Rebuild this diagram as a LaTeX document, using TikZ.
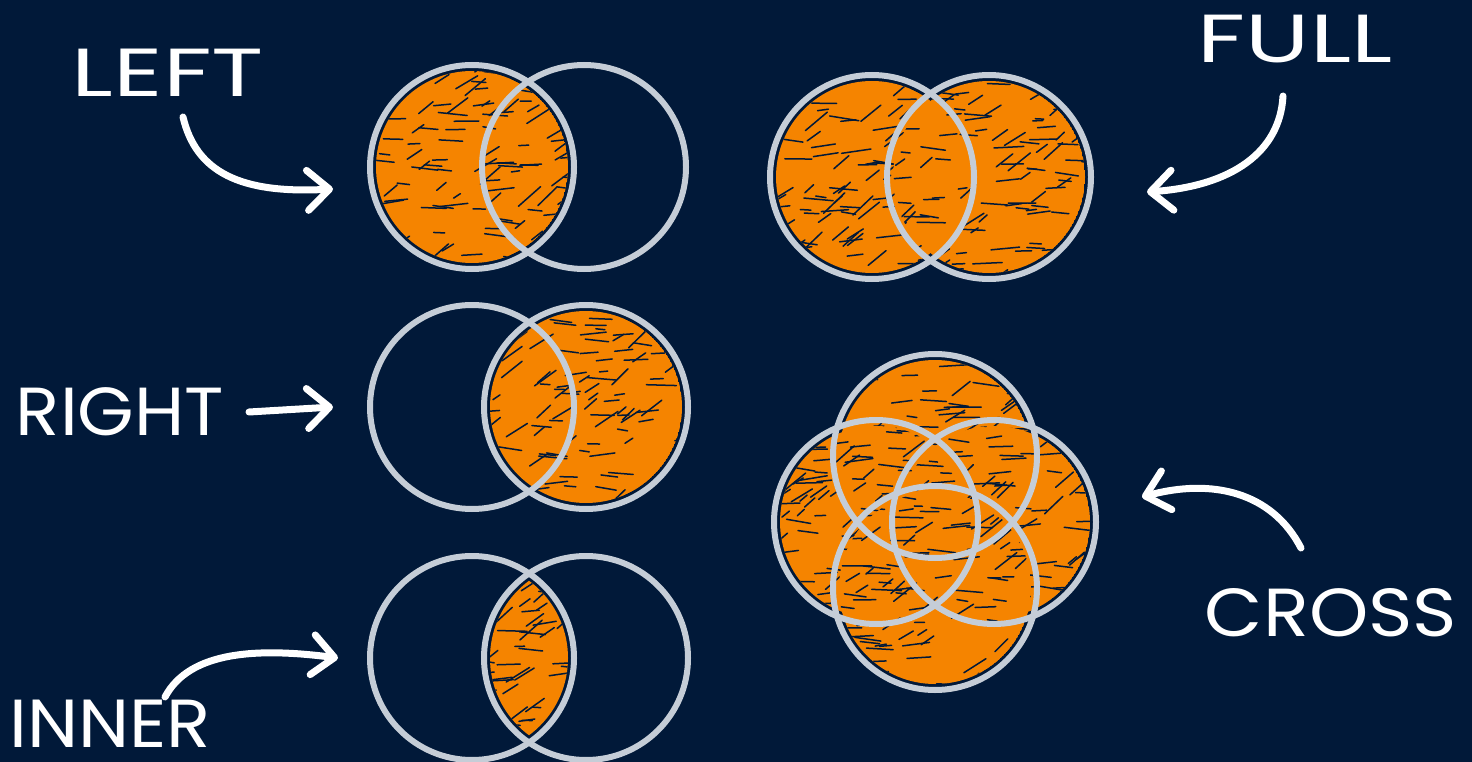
\documentclass[tikz,border=0pt]{standalone}
\usepackage{fontspec}
\setmainfont{Poppins}
\usetikzlibrary{arrows.meta}
\definecolor{bgc}{HTML}{011939}
\definecolor{ringc}{HTML}{C5CDD7}
\definecolor{orng}{HTML}{F58400}
\tikzset{
  ring/.style={circle, draw=ringc, line width=6pt, minimum size=204pt, inner sep=0pt},
  lbl/.style={text=white, font=\fontsize{68}{68}\selectfont, inner sep=0pt},
  hand/.style={draw=white, line width=7pt, line cap=round,
    -{Straight Barb[length=22pt,width=40pt,round]}},
}
\newcommand{\hatchat}[2]{%
  \foreach \k in {1,...,110}{%
    \pgfmathsetmacro{\hx}{#1+rnd*200-100}%
    \pgfmathsetmacro{\hy}{#2+rnd*200-100}%
    \pgfmathsetmacro{\ha}{ifthenelse(rnd>0.6,30+rnd*15,-10+rnd*20)}%
    \pgfmathsetmacro{\hl}{8+rnd*22}%
    \draw[bgc, line width=1.5pt, line cap=round] (\hx,\hy) -- ++(\ha:\hl pt);
  }}
\begin{document}
\begin{tikzpicture}[x=1pt,y=-1pt]
\fill[bgc] (0,0) rectangle (1472,762);
\useasboundingbox (0,0) rectangle (1472,762);
\pgfmathsetseed{11}

% ---------- fills ----------
% LEFT
\begin{scope}
  \clip (472,167) circle[radius=96pt];
  \fill[orng] (472,167) circle[radius=96pt];
  \hatchat{472}{167}
\end{scope}
% RIGHT
\begin{scope}
  \clip (586,407) circle[radius=96pt];
  \fill[orng] (586,407) circle[radius=96pt];
  \hatchat{586}{407}
\end{scope}
% INNER
\begin{scope}
  \clip (472,658) circle[radius=96pt];
  \clip (586,658) circle[radius=96pt];
  \fill[orng] (529,658) circle[radius=96pt];
  \hatchat{529}{658}
\end{scope}
% FULL
\begin{scope}
  \clip (872,177) circle[radius=96pt];
  \fill[orng] (872,177) circle[radius=96pt];
  \hatchat{872}{177}
\end{scope}
\begin{scope}
  \clip (989,177) circle[radius=96pt];
  \fill[orng] (989,177) circle[radius=96pt];
  \hatchat{989}{177}
\end{scope}
% CROSS
\foreach \cx/\cy in {935/456, 876/522, 994/522, 935/588}{
  \begin{scope}
    \clip (\cx,\cy) circle[radius=96pt];
    \fill[orng] (\cx,\cy) circle[radius=96pt];
    \hatchat{\cx}{\cy}
  \end{scope}
}

% ---------- rings ----------
\node[ring] (l1) at (472,167) {};
\node[ring] (l2) at (584,167) {};
\node[ring] (r1) at (472,407) {};
\node[ring] (r2) at (586,407) {};
\node[ring] (i1) at (472,658) {};
\node[ring] (i2) at (586,658) {};
\node[ring] (f1) at (872,177) {};
\node[ring] (f2) at (989,177) {};
\node[ring] (ct) at (935,456) {};
\node[ring] (cl) at (876,522) {};
\node[ring] (cr) at (994,522) {};
\node[ring] (cb) at (935,588) {};

% ---------- labels ----------
\node[lbl, xscale=1.42] (tleft)  at (168,73)  {LEFT};
\node[lbl, xscale=1.07] (tright) at (120,412) {RIGHT};
\node[lbl, xscale=1.07] (tinner) at (110,724) {INNER};
\node[lbl, xscale=1.40] (tfull)  at (1295,39) {FULL};
\node[lbl, xscale=1.11] (tcross) at (1331,613) {CROSS};

% ---------- arrow end points ----------
\coordinate (aLs) at (183,117);  \coordinate (aLe) at (333,189);
\coordinate (aRs) at (249,412);  \coordinate (aRe) at (333,407);
\coordinate (aIs) at (165,697);  \coordinate (aIe) at (338,658);
\coordinate (aFs) at (1283,96);  \coordinate (aFe) at (1147,192);
\coordinate (aCs) at (1301,548); \coordinate (aCe) at (1142,497);

\draw[hand] (aLs) .. controls (196,172) and (240,194) .. (aLe);
\draw[hand] (aRs) -- (aRe);
\draw[hand] (aIs) .. controls (190,650) and (260,648) .. (aIe);
\draw[hand] (aFs) .. controls (1280,152) and (1232,186) .. (aFe);
\draw[hand] (aCs) .. controls (1272,492) and (1212,478) .. (aCe);
\end{tikzpicture}
\end{document}
